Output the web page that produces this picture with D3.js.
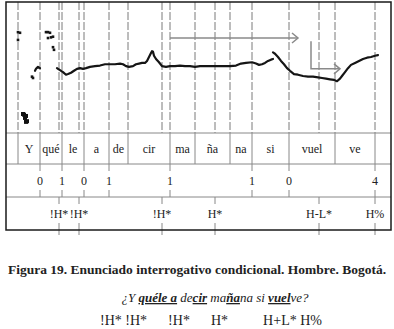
<!DOCTYPE html>
<html>
<head>
<meta charset="utf-8">
<script src="https://cdn.jsdelivr.net/npm/d3@7"></script>
<style>
  body { margin: 0; background: #fff; }
  svg { display: block; }
  text { font-family: 'Liberation Serif', 'DejaVu Serif', serif; fill: #222; }
</style>
</head>
<body>
<svg id="chart" width="394" height="329"></svg>
<script>
// TextGrid tiers, times in seconds
const syllableBounds = [0.06, 0.17, 0.28, 0.39, 0.515, 0.61, 0.82, 0.945, 1.12, 1.23, 1.415, 1.645, 1.845];
const syllables = ['Y', 'qué', 'le', 'a', 'de', 'cir', 'ma', 'ña', 'na', 'si', 'vuel', 've'];
const breakTimes = [0.17, 0.28, 0.39, 0.515, 0.82, 1.23, 1.415, 1.845];
const breakLabels = ['0', '1', '0', '1', '1', '1', '0', '4'];
const toneTimes = [0.265, 0.365, 0.78, 1.045, 1.565, 1.845];
const toneLabels = ['!H*', '!H*', '!H*', 'H*', 'H-L*', 'H%'];

// F0 (t, Hz): stray points and the two voiced stretches
const strayT = [0.06, 0.07, 0.06, 0.13, 0.135, 0.20, 0.21, 0.22, 0.21, 0.225, 0.235, 0.235, 0.24];
const strayHz = [204, 203, 192, 136, 134, 204, 204, 203, 195, 196, 197, 181, 177];
const creakT = [0.085, 0.09, 0.10, 0.095, 0.105, 0.10];
const creakHz = [79, 78, 76, 73, 68, 67];
const onsetT = [0.145, 0.15, 0.16, 0.17];
const onsetHz = [145, 148, 151, 149];
const run1T = [0.255, 0.26, 0.27, 0.285, 0.30, 0.31, 0.325, 0.34, 0.355, 0.37, 0.385, 0.40, 0.42, 0.445, 0.47,
  0.495, 0.52, 0.545, 0.57, 0.585, 0.60, 0.615, 0.635, 0.65, 0.665, 0.68, 0.695, 0.705, 0.715, 0.725, 0.73,
  0.735, 0.74, 0.75, 0.765, 0.78, 0.80, 0.82, 0.845, 0.87, 0.895, 0.92, 0.945, 0.97, 1.02, 1.07, 1.12, 1.15,
  1.175, 1.20, 1.23, 1.25, 1.265, 1.28, 1.295, 1.31, 1.325, 1.335];
const run1Hz = [149, 148, 146, 143, 139, 140, 142, 145, 148, 149, 148, 149, 151, 152, 153,
  155, 155, 155, 156, 155, 152, 151, 152, 155, 156, 157, 157, 160, 166, 172, 175,
  174, 168, 163, 158, 152, 151, 152, 152, 153, 152, 152, 151, 152, 152, 152, 152, 153,
  156, 157, 158, 156, 154, 155, 157, 160, 162, 163];
const run2T = [1.335, 1.345, 1.36, 1.375, 1.39, 1.405, 1.42, 1.44, 1.46, 1.485, 1.51, 1.535, 1.56, 1.58, 1.60,
  1.62, 1.64, 1.655, 1.67, 1.68, 1.695, 1.71, 1.725, 1.745, 1.765, 1.785, 1.805, 1.825, 1.845, 1.86];
const run2Hz = [173, 171, 166, 160, 155, 149, 145, 140, 139, 137, 136, 136, 135, 134, 133,
  132, 131, 129, 133, 137, 143, 149, 154, 157, 160, 163, 165, 166, 168, 169];

// annotation arrows (t, Hz)
const arrowLevelT = [0.82, 1.46];
const arrowLevelHz = 195;
const arrowDropT = [1.525, 1.67];
const arrowDropHz = [190, 148];

const caption = 'Figura 19. Enunciado interrogativo condicional. Hombre. Bogotá.';
const sentence = [
  { s: '¿Y ', b: false }, { s: 'quéle a', b: true }, { s: ' de', b: false }, { s: 'cir', b: true },
  { s: ' ma', b: false }, { s: 'ña', b: true }, { s: 'na si ', b: false }, { s: 'vuel', b: true }, { s: 've?', b: false }
];
const summaryTones = '!H* !H*      !H*      H*          H+L* H%';

const frame = { left: 6, right: 391, top: 2, pitchBottom: 133, syl: 164, brk: 197, bottom: 230 };
const svg = d3.select('#chart');

const x = d3.scaleLinear().domain([0, 1.925]).range([frame.left, frame.right]);
const y = d3.scaleLinear().domain([50, 250]).range([frame.pitchBottom, frame.top]);

const zip = (ts, hs) => ts.map((t, i) => [t, hs[i]]);

// dashed boundary lines through the pitch panel
const allMarks = Array.from(new Set([...syllableBounds, ...breakTimes, ...toneTimes]));
svg.append('g')
  .selectAll('line')
  .data(allMarks)
  .join('line')
  .attr('x1', d => x(d)).attr('x2', d => x(d))
  .attr('y1', frame.top).attr('y2', frame.pitchBottom)
  .attr('stroke', '#7a7a7a')
  .attr('stroke-width', 1)
  .attr('stroke-dasharray', '8,2');

// tier separators
svg.append('g')
  .selectAll('line')
  .data([frame.pitchBottom, frame.syl, frame.brk])
  .join('line')
  .attr('x1', frame.left).attr('x2', frame.right)
  .attr('y1', d => d).attr('y2', d => d)
  .attr('stroke', '#888')
  .attr('stroke-width', 1);

// syllable tier
svg.append('g')
  .selectAll('line')
  .data(syllableBounds)
  .join('line')
  .attr('x1', d => x(d)).attr('x2', d => x(d))
  .attr('y1', frame.pitchBottom).attr('y2', frame.syl)
  .attr('stroke', '#888');

svg.append('g')
  .selectAll('text')
  .data(syllables)
  .join('text')
  .attr('x', (d, i) => (x(syllableBounds[i]) + x(syllableBounds[i + 1])) / 2)
  .attr('y', (frame.pitchBottom + frame.syl) / 2 + 4)
  .attr('text-anchor', 'middle')
  .attr('font-size', 12)
  .text(d => d);

// point tiers
function pointTier(times, labels, top, bottom, extra) {
  const g = svg.append('g');
  g.selectAll('line.up')
    .data(times)
    .join('line')
    .attr('class', 'up')
    .attr('x1', d => x(d)).attr('x2', d => x(d))
    .attr('y1', top).attr('y2', top + 7)
    .attr('stroke', '#888');
  g.selectAll('line.down')
    .data(times)
    .join('line')
    .attr('class', 'down')
    .attr('x1', d => x(d)).attr('x2', d => x(d))
    .attr('y1', bottom - 7).attr('y2', bottom + extra)
    .attr('stroke', '#888');
  g.selectAll('text')
    .data(labels)
    .join('text')
    .attr('x', (d, i) => x(times[i]))
    .attr('y', (top + bottom) / 2 + 4)
    .attr('text-anchor', 'middle')
    .attr('font-size', 12)
    .text(d => d);
}
pointTier(breakTimes, breakLabels, frame.syl, frame.brk, 0);
pointTier(toneTimes, toneLabels, frame.brk, frame.bottom, 5);

// outer frame
svg.append('rect')
  .attr('x', frame.left).attr('y', frame.top)
  .attr('width', frame.right - frame.left)
  .attr('height', frame.bottom - frame.top)
  .attr('fill', 'none')
  .attr('stroke', '#1a1a1a')
  .attr('stroke-width', 1.5);

// arrows
const arrowColor = '#8a8a8a';
const line = d3.line().x(d => x(d[0])).y(d => y(d[1]));
const arrows = svg.append('g').attr('fill', 'none').attr('stroke', arrowColor).attr('stroke-width', 1.5);
arrows.append('path').attr('d', line([[arrowLevelT[0], arrowLevelHz], [arrowLevelT[1], arrowLevelHz]]));
arrows.append('path').attr('d', line([[arrowDropT[0], arrowDropHz[0]], [arrowDropT[0], arrowDropHz[1]], [arrowDropT[1], arrowDropHz[1]]]));
[[arrowLevelT[1], arrowLevelHz], [arrowDropT[1], arrowDropHz[1]]].forEach(p => {
  const px = x(p[0]), py = y(p[1]);
  arrows.append('path').attr('d', `M${px - 6},${py - 5}L${px},${py}L${px - 6},${py + 5}`);
});

// F0 contour
const f0 = svg.append('g');
[zip(onsetT, onsetHz), zip(run1T, run1Hz), zip(run2T, run2Hz)].forEach(seg => {
  f0.append('path')
    .attr('d', line(seg))
    .attr('fill', 'none')
    .attr('stroke', '#151515')
    .attr('stroke-width', 2.2)
    .attr('stroke-linejoin', 'round')
    .attr('stroke-linecap', 'round');
});
f0.selectAll('rect.stray')
  .data(zip(strayT, strayHz))
  .join('rect')
  .attr('class', 'stray')
  .attr('x', d => x(d[0]) - 1.3).attr('y', d => y(d[1]) - 1.3)
  .attr('width', 2.6).attr('height', 2.6)
  .attr('fill', '#151515');
f0.selectAll('rect.creak')
  .data(zip(creakT, creakHz))
  .join('rect')
  .attr('class', 'creak')
  .attr('x', d => x(d[0]) - 2).attr('y', d => y(d[1]) - 2)
  .attr('width', 4).attr('height', 4)
  .attr('fill', '#111');

// caption and transcription
svg.append('text')
  .attr('x', 197).attr('y', 274)
  .attr('text-anchor', 'middle')
  .attr('font-size', 13.5)
  .attr('font-weight', 'bold')
  .attr('textLength', 378)
  .attr('lengthAdjust', 'spacingAndGlyphs')
  .text(caption);

const sent = svg.append('text')
  .attr('x', 215).attr('y', 302)
  .attr('text-anchor', 'middle')
  .attr('font-size', 13)
  .attr('font-style', 'italic')
  .style('white-space', 'pre');
sent.selectAll('tspan')
  .data(sentence)
  .join('tspan')
  .attr('font-weight', d => d.b ? 'bold' : 'normal')
  .style('text-decoration', d => d.b ? 'underline' : 'none')
  .text(d => d.s);

svg.append('text')
  .attr('x', 211).attr('y', 325)
  .attr('text-anchor', 'middle')
  .attr('font-size', 14)
  .attr('textLength', 222)
  .attr('lengthAdjust', 'spacing')
  .style('white-space', 'pre')
  .text(summaryTones);
</script>
</body>
</html>
